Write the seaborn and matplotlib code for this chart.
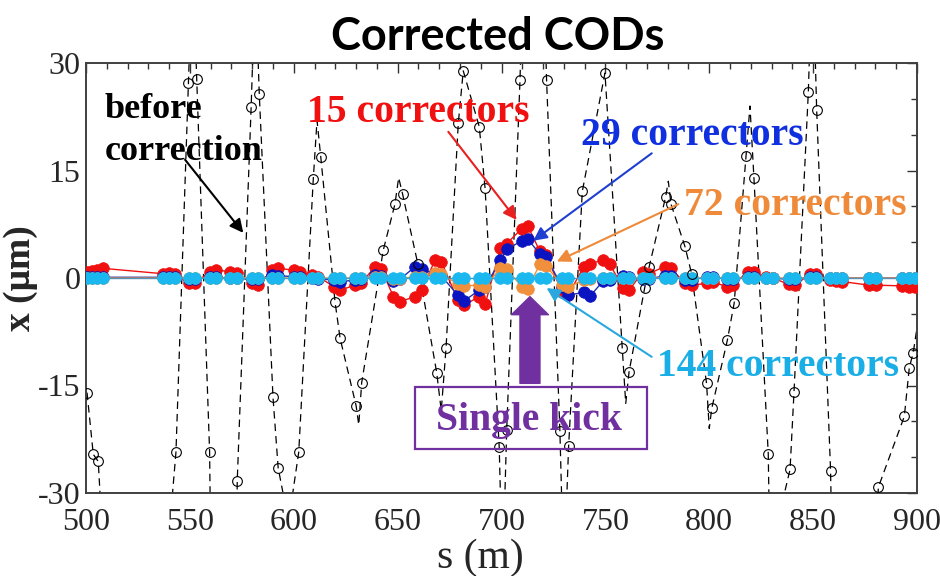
import matplotlib
matplotlib.use("Agg")
import matplotlib.pyplot as plt
import matplotlib.patches as mpatches
import numpy as np
import pandas as pd
import seaborn as sns

# ---------------- data ----------------
bpm_s = [500.5, 503.0, 505.5, 508.0,
         537.0, 540.0, 543.0,
         549.5, 552.5, 559.5, 562.5, 569.5, 572.5, 580.0, 583.0,
         589.5, 592.5, 600.0, 603.0, 608.7, 611.7, 619.3, 622.3,
         629.5, 632.5, 639.2, 642.2, 648.0, 651.0, 658.5, 661.5,
         668.0, 671.0, 679.0, 682.0, 689.2, 692.2, 699.5, 702.5,
         709.8, 712.8, 718.5, 721.5, 729.0, 732.0, 739.7, 742.7,
         749.0, 752.0, 758.5, 761.5, 768.0, 771.0, 778.5, 781.5,
         788.5, 791.5, 799.0, 802.0, 808.5, 811.5, 818.5, 821.5,
         827.5, 830.5, 838.5, 841.5, 848.5, 851.5,
         858.0, 861.0, 864.0, 877.0, 880.5, 893.0, 896.0, 899.0]

x_15 = [0.9, 1.0, 1.1, 1.35,
        0.6, 0.7, 0.5,
        -0.75, -0.75, 0.9, 1.1, 0.9, 0.65, -0.75, -1.0,
        1.1, 1.35, 1.1, 0.9, 0.4, 0.2, -1.2, -1.7,
        -1.0, -0.7, 1.6, 1.2, -2.6, -3.3, -2.6, -1.7,
        2.5, 2.3, -3.1, -3.8, -2.6, -3.6, 4.2, 4.8,
        6.9, 7.2, 3.7, 3.2, -1.9, -2.4, 1.6, 2.0,
        2.5, 2.0, -1.4, -1.7, 0.9, 0.6, 1.6, 1.35,
        -0.75, -1.0, -0.75, -0.6, -1.2, -1.0, 0.9, 0.8,
        0.1, 0.0, -0.9, -1.0, 0.6, 0.5,
        -0.3, -0.4, -0.5, -1.0, -1.0, -1.1, -1.2, -1.2]

x_29 = [0.1, 0.1, 0.1, 0.1,
        0.1, 0.1, 0.1,
        -0.1, -0.1, 0.1, 0.1, 0.0, 0.0, -0.2, -0.2,
        0.4, 0.3, 0.2, 0.1, 0.0, -0.1, -0.3, -0.5,
        -0.3, -0.2, 0.4, 0.3, -0.4, -0.2, 1.6, 1.3,
        0.5, 0.3, -2.4, -3.2, -1.7, -1.2, 2.5, 4.0,
        5.2, 5.4, 3.3, 3.0, -1.2, -2.4, -2.0, -2.5,
        -0.4, -0.3, 0.3, 0.2, -0.2, -0.1, 0.3, 0.3,
        -0.3, -0.3, 0.2, 0.2, -0.2, -0.2, 0.2, 0.2,
        0.0, 0.0, -0.2, -0.1, 0.1, 0.1,
        0.0, 0.0, 0.0, 0.0, 0.0, 0.0, 0.0, 0.0]

x_72 = [0.0, 0.0, 0.0, 0.0,
        0.0, 0.0, 0.0,
        0.0, 0.0, 0.0, 0.0, 0.0, 0.0, 0.0, 0.0,
        0.0, 0.0, 0.0, 0.0, 0.0, 0.0, 0.0, 0.0,
        0.0, 0.0, 0.2, 0.2, -0.2, -0.1, 0.2, 0.2,
        0.7, 0.5, -0.8, -1.1, -1.0, -1.2, 1.4, 1.2,
        -1.2, -1.5, 2.0, 1.7, -1.0, -1.3, -0.3, -0.2,
        0.0, 0.0, 0.0, 0.0, 0.0, 0.0, 0.0, 0.0,
        0.0, 0.0, 0.0, 0.0, 0.0, 0.0, 0.0, 0.0,
        0.0, 0.0, 0.0, 0.0, 0.0, 0.0,
        0.0, 0.0, 0.0, 0.0, 0.0, 0.0, 0.0, 0.0]

x_144 = [0.0] * 77

# before correction: BPM readings (circles)
before_bpm_s = [500.5, 503.5, 505.9, 543.3, 549.3, 553.3, 559.5, 572.8, 579.5,
                583.4, 590.0, 592.5, 602.4, 609.4, 613.0, 619.9, 622.3, 630.0,
                632.7, 643.1, 648.7, 652.4, 659.7, 668.8, 673.3, 679.2, 681.6,
                689.3, 692.1, 698.9, 702.5, 708.9, 721.7, 728.1, 732.3, 738.9,
                749.8, 758.1, 761.4, 768.9, 771.1, 779.0, 781.6, 788.3, 791.5,
                798.7, 801.2, 808.7, 812.0, 817.7, 821.5, 828.4, 838.9, 840.8,
                847.7, 851.7, 858.4, 881.4, 893.9, 896.3, 898.2]
before_bpm_x = [-16.0, -24.6, -25.6, -24.3, 27.2, 27.7, -24.3, -28.3, 23.9,
                25.7, -16.6, -26.5, -24.3, 13.8, 16.9, -3.4, -8.4, -17.8,
                -14.6, 3.9, 10.3, 11.7, 2.0, -13.2, -9.8, 21.6, 28.9,
                21.1, 12.5, -23.6, -21.2, 27.6, 27.6, -21.3, -23.5, 12.1,
                28.6, -9.7, -13.1, -1.4, 1.6, 11.3, 10.3, 4.4, 0.6,
                -14.7, -18.2, -8.7, -3.5, 17.0, 14.0, -24.5, -26.7, -15.9,
                26.0, 23.5, -26.9, -29.2, -19.3, -12.5, -10.4]

# before correction: orbit (dashed line), incl. off-scale excursions
before_orbit_s = [500.5, 503.5, 505.9, 507.5, 540.5, 543.3, 549.3, 551.3, 553.3,
                  559.5, 560.5, 572.0, 572.8, 579.5, 581.5, 583.4, 590.0, 592.5,
                  597.5, 602.4, 609.4, 611.2, 613.0, 619.9, 622.3, 630.0, 631.3,
                  632.7, 643.1, 648.7, 650.5, 652.4, 659.7, 668.8, 671.0, 673.3,
                  679.2, 681.6, 689.3, 692.1, 698.9, 700.5, 702.5, 708.9, 711.0,
                  719.5, 721.7, 728.1, 730.0, 732.3, 738.9, 749.8, 758.1, 759.8,
                  761.4, 768.9, 771.1, 779.0, 780.3, 781.6, 788.3, 791.5, 798.7,
                  800.0, 801.2, 808.7, 812.0, 817.7, 819.6, 821.5, 828.4, 829.5,
                  835.0, 838.9, 840.8, 847.7, 849.7, 851.7, 858.4, 859.5, 879.5,
                  881.4, 893.9, 896.3, 898.2, 901.0]
before_orbit_x = [-16.0, -24.6, -25.6, -34.0, -34.0, -24.3, 27.2, 45.0, 27.7,
                  -24.3, -50.0, -45.0, -28.3, 23.9, 42.0, 25.7, -16.6, -26.5,
                  -34.0, -24.3, 13.8, 22.0, 16.9, -3.4, -8.4, -17.8, -20.5,
                  -14.6, 3.9, 10.3, 14.0, 11.7, 2.0, -13.2, -18.5, -9.8,
                  21.6, 28.9, 21.1, 12.5, -23.6, -42.0, -21.2, 27.6, 50.0,
                  50.0, 27.6, -21.3, -42.0, -23.5, 12.1, 28.6, -9.7, -17.5,
                  -13.1, -1.4, 1.6, 11.3, 13.5, 10.3, 4.4, 0.6, -14.7,
                  -21.0, -18.2, -8.7, -3.5, 17.0, 24.0, 14.0, -24.5, -45.0,
                  -31.5, -26.7, -15.9, 26.0, 45.0, 23.5, -26.9, -45.0, -40.0,
                  -29.2, -19.3, -12.5, -10.4, -5.0]

x_ticks = [500, 550, 600, 650, 700, 750, 800, 850, 900]
x_tick_labels = ["500", "550", "600", "650", "700", "750", "800", "850", "900"]
y_ticks = [-30, -15, 0, 15, 30]
y_tick_labels = ["-30", "-15", "0", "15", "30"]

# ---------------- style ----------------
sns.set_theme(style="white")
plt.rcParams["font.family"] = ["Liberation Serif", "DejaVu Serif"]

RED = "#f01010"
BLUE = "#0a14c0"
ORANGE = "#f08f3c"
CYAN = "#1ab8ee"
PURPLE = "#7030a0"

fig = plt.figure(figsize=(9.4, 5.76), dpi=100)
ax = fig.add_axes([86 / 940, 83 / 576, 831 / 940, 430 / 576])

# before-correction orbit (dashed) and BPM circles
sns.lineplot(x=before_orbit_s, y=before_orbit_x, ax=ax, sort=False, estimator=None,
             color="black", linewidth=0.9, linestyle=(0, (6, 4)), zorder=2)

ms = 8.4
sns.lineplot(x=bpm_s, y=x_15, ax=ax, sort=False, estimator=None, color=RED,
             linewidth=1.0, marker="o", markersize=ms, markerfacecolor=RED,
             markeredgecolor=RED, markeredgewidth=0.5, zorder=3)
sns.lineplot(x=bpm_s, y=x_29, ax=ax, sort=False, estimator=None, color="#2030b0",
             linewidth=1.0, marker="o", markersize=ms, markerfacecolor=BLUE,
             markeredgecolor=BLUE, markeredgewidth=0.5, zorder=4)
sns.lineplot(x=bpm_s, y=x_72, ax=ax, sort=False, estimator=None, color=ORANGE,
             linewidth=1.0, marker="o", markersize=ms, markerfacecolor=ORANGE,
             markeredgecolor=ORANGE, markeredgewidth=0.5, zorder=5)
sns.lineplot(x=bpm_s, y=x_144, ax=ax, sort=False, estimator=None, color="#5b93b8",
             linewidth=1.0, marker="o", markersize=ms, markerfacecolor=CYAN,
             markeredgecolor=CYAN, markeredgewidth=0.5, zorder=6)

sns.lineplot(x=before_bpm_s, y=before_bpm_x, ax=ax, sort=False, estimator=None,
             color="black", linestyle="", marker="o", markersize=7.0,
             markerfacecolor="none", markeredgecolor="black",
             markeredgewidth=0.8, zorder=7)

# axes
ax.set_xlim(500, 900)
ax.set_ylim(-30, 30)
ax.set_xticks(x_ticks)
ax.set_xticklabels(x_tick_labels)
ax.set_yticks(y_ticks)
ax.set_yticklabels(y_tick_labels)
ax.set_xticks(np.arange(500, 901, 10), minor=True)
ax.set_yticks(np.arange(-30, 31, 5), minor=True)
ax.tick_params(which="both", direction="in", top=True, right=True,
               color="#333333", width=1.0)
ax.tick_params(which="major", length=7, labelsize=23)
ax.tick_params(which="minor", length=4)
ax.tick_params(axis="x", which="major", pad=11)
ax.tick_params(axis="y", which="major", pad=4)
for sp in ax.spines.values():
    sp.set_color("#404040")
    sp.set_linewidth(1.4)
ax.grid(False)

ax.set_xlabel("s (m)", fontsize=30)
ax.xaxis.set_label_coords(0.475, -0.105)
ax.set_ylabel("x (μm)", fontsize=27, fontweight="bold")
ax.yaxis.set_label_coords(-0.058, 0.5)

fig.text(0.530, 1 - 50 / 576, "Corrected CODs", ha="center", va="baseline",
         fontsize=32.5, fontweight="bold", color="black",
         family=["Lato", "DejaVu Sans"])

# annotations
bold = dict(fontweight="bold")
ax.text(509.1, 22.3, "before", ha="left", va="baseline", fontsize=26, color="black", zorder=10, **bold)
ax.text(509.1, 16.5, "correction", ha="left", va="baseline", fontsize=26, color="black", zorder=10, **bold)
ax.text(659.8, 21.8, "15 correctors", ha="center", va="baseline", fontsize=28.5, color=RED, zorder=10, **bold)
ax.text(791.9, 18.6, "29 correctors", ha="center", va="baseline", fontsize=28.5, color="#1030e0", zorder=10, **bold)
ax.text(841.3, 8.8, "72 correctors", ha="center", va="baseline", fontsize=28.5, color="#ee8a3a", zorder=10, **bold)
ax.text(833.2, -13.7, "144 correctors", ha="center", va="baseline", fontsize=28.5, color="#1aaee6", zorder=10, **bold)
ax.text(713.3, -21.2, "Single kick", ha="center", va="baseline", fontsize=28.5, color=PURPLE, zorder=10, **bold)

ax.add_patch(mpatches.Rectangle((658.4, -23.9), 111.5, 8.7, fill=False,
                                edgecolor=PURPLE, linewidth=1.6, zorder=9))

def arrow(tail, head, color):
    ax.annotate("", xy=head, xytext=tail,
                arrowprops=dict(arrowstyle="-|>", color=color, lw=1.5,
                                mutation_scale=20, shrinkA=0, shrinkB=0),
                zorder=11)

arrow((547.7, 16.5), (575.7, 6.3), "black")
arrow((674.4, 20.4), (707.3, 8.1), "#e8201f")
arrow((772.3, 17.4), (715.3, 5.2), "#1f3fd0")
arrow((785.1, 10.3), (726.6, 2.3), "#ee8a3a")
arrow((772.3, -11.0), (721.7, -1.4), "#2aa8de")

ax.annotate("", xy=(713.7, -2.6), xytext=(713.7, -14.7),
            arrowprops=dict(arrowstyle="simple,head_length=0.65,head_width=1.33,tail_width=0.72",
                            color=PURPLE, mutation_scale=20, shrinkA=0, shrinkB=0),
            zorder=11)

fig.savefig("out.png", dpi=100)
